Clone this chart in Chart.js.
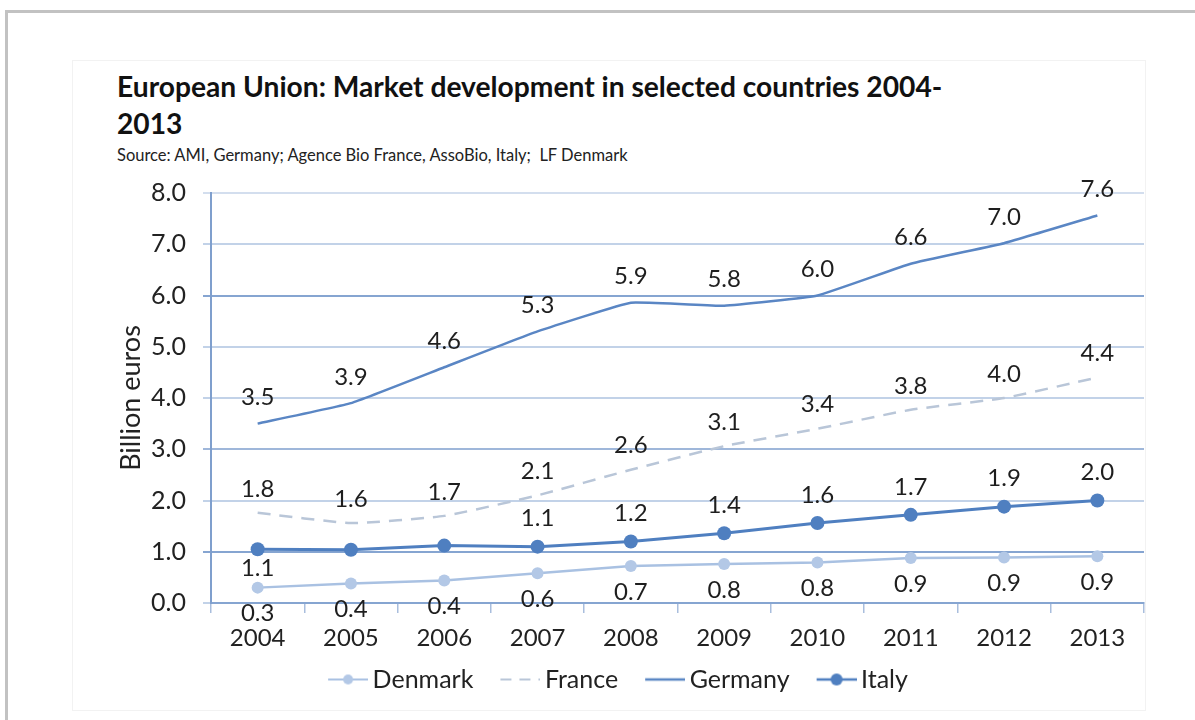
<!DOCTYPE html>
<html>
<head>
<meta charset="utf-8">
<script src="https://cdn.jsdelivr.net/npm/chart.js@4.4.0/dist/chart.umd.min.js"></script>
<style>
  html, body { margin: 0; padding: 0; background: #fff; width: 1195px; height: 720px; overflow: hidden; }
  #frame { position: absolute; left: 5px; top: 10px; width: 1200px; height: 720px;
           border-top: 3px solid #c2c2c2; border-left: 3px solid #c2c2c2; }
  #panel { position: absolute; left: 72px; top: 60px; width: 1072px; height: 649px; border: 1px solid #f2f2f2; }
  #title { position: absolute; left: 117px; top: 68px; font: bold 28.2px Lato, "Open Sans", sans-serif;
           color: #111; line-height: 37px; white-space: nowrap; }
  #source { position: absolute; left: 117px; top: 145px; font: 16.5px Lato, "Open Sans", sans-serif; color: #222; white-space: nowrap; }
  #wrap { position: absolute; left: 0; top: 0; width: 1195px; height: 720px; }
</style>
</head>
<body>
<div id="frame"></div>
<div id="panel"></div>
<div id="title">European Union: Market development in selected countries 2004-<br>2013</div>
<div id="source">Source: AMI, Germany; Agence Bio France, AssoBio, Italy;&nbsp; LF Denmark</div>
<div id="wrap"><canvas id="chart" width="1195" height="720"></canvas></div>
<script>
// Organic market size, billion euros
const years   = ['2004', '2005', '2006', '2007', '2008', '2009', '2010', '2011', '2012', '2013'];
const denmark = [0.30, 0.38, 0.44, 0.58, 0.72, 0.76, 0.79, 0.88, 0.89, 0.91];
const france  = [1.76, 1.56, 1.70, 2.10, 2.60, 3.06, 3.40, 3.77, 4.00, 4.40];
const germany = [3.50, 3.90, 4.60, 5.30, 5.86, 5.80, 6.00, 6.62, 7.02, 7.56];
const italy   = [1.05, 1.04, 1.12, 1.10, 1.20, 1.36, 1.56, 1.72, 1.88, 2.00];
const yTicks  = [0, 1, 2, 3, 4, 5, 6, 7, 8];

const FONT = 'Lato, "Open Sans", sans-serif';
const TEXT = '#222';
const C_DK = '#a9c1e2', C_DK_PT = '#b3c8e6';
const C_FR = '#b9c6d8';
const C_DE = '#5a86c4';
const C_IT = '#4f7fc0';

// Legend swatches: short line, optional dash / marker
function swatch(color, opts) {
  const c = document.createElement('canvas');
  c.width = 60; c.height = 18;
  const g = c.getContext('2d');
  const x0 = 20, x1 = 60, cy = 9;
  g.strokeStyle = color;
  g.lineWidth = opts.width || 2.5;
  if (opts.dash) g.setLineDash(opts.dash);
  g.beginPath(); g.moveTo(x0, cy); g.lineTo(x1, cy); g.stroke();
  if (opts.dot) {
    g.fillStyle = opts.dotColor || color;
    g.beginPath(); g.arc((x0 + x1) / 2, cy, opts.dot, 0, Math.PI * 2); g.fill();
  }
  return c;
}
const swatches = [
  swatch(C_DK, { dot: 5, dotColor: C_DK_PT, width: 2.2 }),
  swatch(C_FR, { dash: [11, 8], width: 2.2 }),
  swatch(C_DE, { width: 2.4 }),
  swatch(C_IT, { dot: 6, width: 2.6 })
];

// Value labels written next to each point
const valueLabels = {
  id: 'valueLabels',
  afterDatasetsDraw(chart) {
    const ctx = chart.ctx;
    ctx.save();
    ctx.font = '24px ' + FONT;
    ctx.fillStyle = '#1e1e1e';
    ctx.textAlign = 'center';
    ctx.textBaseline = 'middle';
    chart.data.datasets.forEach((ds, i) => {
      const cfg = ds.valueLabel;
      if (!cfg) return;
      chart.getDatasetMeta(i).data.forEach((pt, j) => {
        const side = cfg.sides ? cfg.sides[j] : cfg.side;
        if (!side) return;
        const dy = side === 'above' ? -cfg.above : cfg.below;
        const txt = (Math.round(ds.data[j] * 10) / 10).toFixed(1);
        ctx.fillText(txt, pt.x, pt.y + dy);
      });
    });
    ctx.restore();
  }
};

function gridColor(v) {
  if (v === 8) return '#d3deee';
  if (v === 6 || v === 1) return '#86a5d1';
  if (v === 3) return '#9fb7da';
  return '#c2d2e8';
}

new Chart(document.getElementById('chart'), {
  type: 'line',
  data: {
    labels: years,
    datasets: [
      {
        label: 'Denmark', data: denmark,
        borderColor: C_DK, borderWidth: 2.5, backgroundColor: C_DK_PT,
        pointRadius: 6, pointBackgroundColor: C_DK_PT, pointBorderWidth: 0,
        tension: 0, valueLabel: { side: 'below', above: 0, below: 26 }
      },
      {
        label: 'France', data: france,
        borderColor: C_FR, borderWidth: 2.5, borderDash: [13, 9],
        pointRadius: 0, tension: 0.15,
        valueLabel: { side: 'above', above: 24, below: 0 }
      },
      {
        label: 'Germany', data: germany,
        borderColor: C_DE, borderWidth: 2.5,
        pointRadius: 0, tension: 0.1,
        valueLabel: { side: 'above', above: 26, below: 0 }
      },
      {
        label: 'Italy', data: italy,
        borderColor: C_IT, borderWidth: 3, backgroundColor: C_IT,
        pointRadius: 7, pointBackgroundColor: C_IT, pointBorderWidth: 0,
        tension: 0,
        valueLabel: {
          sides: ['below', null, null, 'above', 'above', 'above', 'above', 'above', 'above', 'above'],
          above: 28, below: 19
        }
      }
    ]
  },
  options: {
    responsive: false,
    animation: false,
    layout: { padding: { left: 80, top: 193, right: 51, bottom: 18 } },
    plugins: {
      title: { display: false },
      tooltip: { enabled: false },
      legend: {
        position: 'bottom',
        labels: {
          usePointStyle: true,
          pointStyleWidth: 44,
          padding: 15,
          color: TEXT,
          font: { family: FONT, size: 25 },
          generateLabels: (chart) => chart.data.datasets.map((ds, i) => ({
            text: ds.label,
            pointStyle: swatches[i],
            datasetIndex: i,
            hidden: false,
            lineWidth: 0,
            fillStyle: ds.borderColor,
            strokeStyle: ds.borderColor,
            fontColor: TEXT
          }))
        }
      }
    },
    scales: {
      x: {
        offset: true,
        afterFit: (axis) => { axis.height = 49; },
        grid: { offset: true, drawOnChartArea: false, drawTicks: true, tickLength: 10, color: '#a9bedd', lineWidth: 1.5 },
        border: { display: true, color: '#86a5d1', width: 2 },
        ticks: { color: TEXT, font: { family: FONT, size: 24 }, padding: 11, maxRotation: 0 }
      },
      y: {
        min: 0, max: 8,
        afterFit: (axis) => { axis.width = 131; },
        afterBuildTicks: (axis) => { axis.ticks = yTicks.map(v => ({ value: v })); },
        ticks: { color: TEXT, font: { family: FONT, size: 25 }, padding: 17, callback: (v) => Number(v).toFixed(1) },
        grid: { color: (ctx) => gridColor(ctx.tick ? ctx.tick.value : null), lineWidth: 2, tickLength: 8 },
        border: { display: true, color: '#7f9fcd', width: 2 },
        title: { display: true, text: 'Billion euros', color: TEXT, font: { family: FONT, size: 27 }, padding: { top: 35, bottom: 0 } }
      }
    }
  },
  plugins: [valueLabels]
});
</script>
</body>
</html>
